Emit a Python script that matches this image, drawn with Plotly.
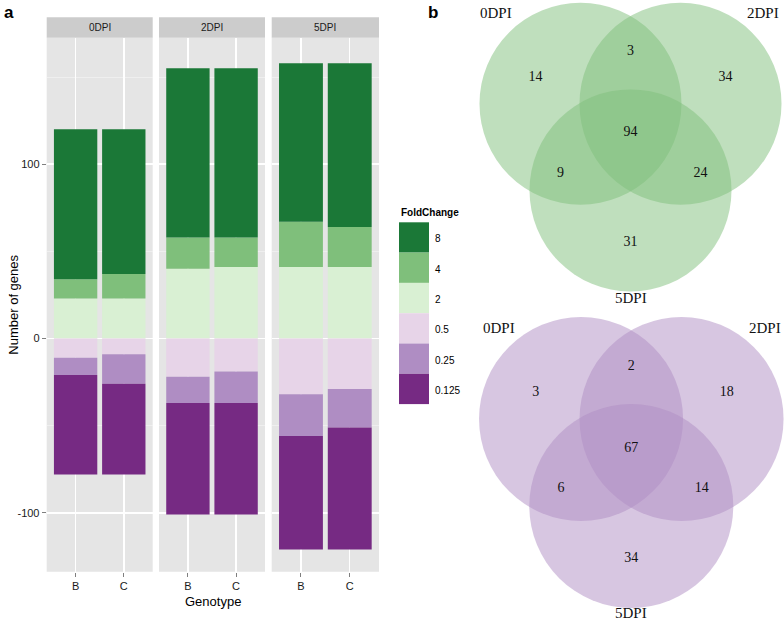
import plotly.graph_objects as go
import math

# page body margin is removed by post_script, so the figure fills the window
OFF = 0
WIN_W, WIN_H = 784, 621
W, H = WIN_W - OFF, WIN_H - OFF

# ---------------- data ----------------
timepoints = ["0DPI", "2DPI", "5DPI"]
genotypes = ["B", "C"]
fold_changes = ["8", "4", "2", "0.5", "0.25", "0.125"]
fc_colors = ["#1b7837", "#7fbf7b", "#d9f0d3", "#e7d4e8", "#af8dc3", "#762a83"]

# values per fold-change: [ [B, C] for 0DPI, 2DPI, 5DPI ]
fc_8 = [[86, 83], [97, 97], [91, 94]]
fc_4 = [[11, 14], [18, 17], [26, 23]]
fc_2 = [[23, 23], [40, 41], [41, 41]]
fc_05 = [[-11, -9], [-22, -19], [-32, -29]]
fc_025 = [[-10, -17], [-15, -18], [-24, -22]]
fc_0125 = [[-57, -52], [-64, -64], [-65, -70]]

y_ticks = [-100, 0, 100]
y_tick_labels = ["-100", "0", "100"]
y_minor = [-50, 50, 150]

venn_sets = ["0DPI", "2DPI", "5DPI"]
# region counts: only A, only B, only C, AB, AC, BC, ABC
venn_up = [14, 34, 31, 3, 9, 24, 94]
venn_down = [3, 18, 34, 2, 6, 14, 67]


def px_x(p):
    return (p - OFF) / W


def px_y(p):
    return 1 - (p - OFF) / H


FONT = "Liberation Sans, Arial, sans-serif"
SERIF = "Liberation Serif, Times New Roman, serif"

fig = go.Figure()


def note(text, x, y, size, color="#000000", family=FONT, xanchor="center",
         yanchor="middle", **kw):
    fig.add_annotation(text=text, xref=kw.pop("xref", "paper"),
                       yref=kw.pop("yref", "paper"), x=x, y=y,
                       xanchor=xanchor, yanchor=yanchor, showarrow=False,
                       font=dict(family=family, size=size, color=color), **kw)


# ---------------- panel a ----------------
panel_px = [(46.7, 152.7), (159.0, 265.0), (271.7, 379.0)]
panel_top, panel_bot = 37.7, 571.7
strip_top = 17.3
ydom = [px_y(panel_bot), px_y(panel_top)]
y_range = [-133.8, 172.6]

# stacking order: positives upward from 2, then 4, 8; negatives 0.5, 0.25, 0.125
stack_order = [("2", fc_2), ("4", fc_4), ("8", fc_8),
               ("0.5", fc_05), ("0.25", fc_025), ("0.125", fc_0125)]
col_map = dict(zip(fold_changes, fc_colors))

for i, tp in enumerate(timepoints):
    xa = "x" if i == 0 else f"x{i+1}"
    ya = "y" if i == 0 else f"y{i+1}"
    for name, vals in stack_order:
        fig.add_trace(go.Bar(
            x=genotypes, y=vals[i], name=name, xaxis=xa, yaxis=ya,
            marker=dict(color=col_map[name], line=dict(width=0)),
            showlegend=False, hoverinfo="skip"))
    xkey = "xaxis" if i == 0 else f"xaxis{i+1}"
    ykey = "yaxis" if i == 0 else f"yaxis{i+1}"
    fig.update_layout(**{
        xkey: dict(domain=[px_x(panel_px[i][0]), px_x(panel_px[i][1])],
                   anchor=ya, type="category", range=[-0.6, 1.6],
                   showgrid=True, gridcolor="white", gridwidth=1.5,
                   ticks="outside", ticklen=4, tickcolor="#7f7f7f",
                   tickfont=dict(family=FONT, size=11, color="#1a1a1a"),
                   showline=False, zeroline=False, fixedrange=True),
        ykey: dict(domain=ydom, anchor=xa, range=y_range,
                   tickmode="array", tickvals=y_ticks, ticktext=y_tick_labels,
                   showticklabels=(i == 0),
                   ticks="outside" if i == 0 else "", ticklen=4,
                   tickcolor="#7f7f7f",
                   tickfont=dict(family=FONT, size=11, color="#1a1a1a"),
                   showgrid=True, gridcolor="white", gridwidth=1.5,
                   zeroline=True, zerolinecolor="white", zerolinewidth=1.5,
                   minor=dict(tickmode="array", tickvals=y_minor,
                              showgrid=True, gridcolor="#F4F4F4",
                              gridwidth=0.7, ticks=""),
                   showline=False, fixedrange=True),
    })
    # panel background
    fig.add_shape(type="rect", xref=f"{xa} domain", yref=f"{ya} domain",
                  x0=0, x1=1, y0=0, y1=1, fillcolor="#E5E5E5",
                  line=dict(width=0), layer="below")
    # strip
    fig.add_shape(type="rect", xref=f"{xa} domain", yref="paper",
                  x0=0, x1=1, y0=px_y(panel_top), y1=px_y(strip_top),
                  fillcolor="#CCCCCC", line=dict(width=0), layer="below")
    note(tp, 0.5, px_y((panel_top + strip_top) / 2), 10, "#1a1a1a",
         xref=f"{xa} domain")

fig.update_layout(barmode="relative", bargap=0.1)

# axis titles
note("Genotype", px_x(212.5), px_y(601), 13)
note("Number of genes", px_x(14), px_y((panel_top + panel_bot) / 2), 13,
     textangle=-90)

# legend (manual, ggplot style)
note("<b>FoldChange</b>", px_x(398.5), px_y(213), 10, xanchor="left")
key_top, key_h = 222.3, 30.3
for k, (name, col) in enumerate(zip(fold_changes, fc_colors)):
    t = key_top + k * key_h
    fig.add_shape(type="rect", xref="paper", yref="paper",
                  x0=px_x(399), x1=px_x(429), y0=px_y(t + key_h), y1=px_y(t),
                  fillcolor=col, line=dict(width=0))
    note(name, px_x(432.5), px_y(t + key_h / 2 + 1.5), 10, xanchor="left")

# panel labels
note("<b>a</b>", px_x(8.5), px_y(13), 17)
note("<b>b</b>", px_x(432.5), px_y(13), 17)

# ---------------- panel b: Venn diagrams ----------------
fig.update_layout(
    xaxis4=dict(domain=[0, 1], range=[OFF, WIN_W], visible=False,
                fixedrange=True, anchor="y4"),
    yaxis4=dict(domain=[0, 1], range=[WIN_H, OFF], visible=False,
                fixedrange=True, anchor="x4"),
)


def venn(cx, cy_top, d, r, color, counts, label_offsets):
    # circle centres in an equilateral triangle
    cA = (cx - d / 2, cy_top)
    cB = (cx + d / 2, cy_top)
    cC = (cx, cy_top + d * math.sqrt(3) / 2)
    cen = ((cA[0] + cB[0] + cC[0]) / 3, (cA[1] + cB[1] + cC[1]) / 3)
    for c in (cA, cB, cC):
        fig.add_shape(type="circle", xref="x4", yref="y4",
                      x0=c[0] - r, x1=c[0] + r, y0=c[1] - r, y1=c[1] + r,
                      fillcolor=color, opacity=0.5, line=dict(width=0),
                      layer="below")

    def away(c, k):
        return (cen[0] + k * (c[0] - cen[0]), cen[1] + k * (c[1] - cen[1]))

    def opp(c, k):
        return (cen[0] - k * (c[0] - cen[0]), cen[1] - k * (c[1] - cen[1]))

    pos = [away(cA, 1.9), away(cB, 1.9), away(cC, 1.9),
           opp(cC, 1.4), opp(cB, 1.4), opp(cA, 1.4), cen]
    fig.add_trace(go.Scatter(
        x=[p[0] for p in pos], y=[p[1] for p in pos],
        text=[str(v) for v in counts], mode="text", xaxis="x4", yaxis="y4",
        textfont=dict(family=SERIF, size=14, color="#111111"),
        showlegend=False, hoverinfo="skip"))
    for name, c, off in zip(venn_sets, (cA, cB, cC), label_offsets):
        note(name, c[0] + off[0], c[1] + off[1], 15, "#111111", SERIF,
             xref="x4", yref="y4")


venn(630.5, 103.8, 100, 101, "#7fbf7b", venn_up,
     [(-85, -91), (82.5, -91), (0, 107.5)])
venn(631.3, 419.0, 100.5, 102, "#af8dc3", venn_down,
     [(-82, -91.5), (83.5, -91.5), (0, 106.5)])

fig.update_layout(
    width=W, height=H,
    margin=dict(l=0, r=0, t=0, b=0),
    paper_bgcolor="white", plot_bgcolor="rgba(0,0,0,0)",
    showlegend=False,
)

fig.write_html(
    "out.html",
    config={"displayModeBar": False, "staticPlot": True},
    post_script="document.body.style.margin='0';"
                "document.body.style.overflow='hidden';")
